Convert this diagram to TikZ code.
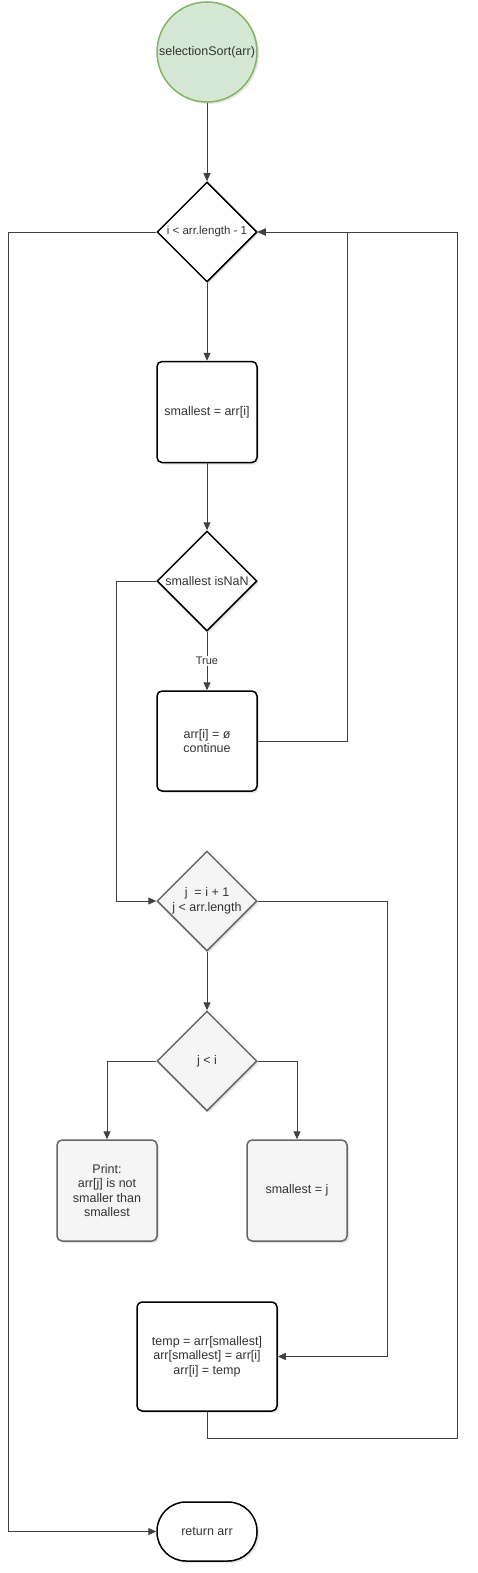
\documentclass[tikz,border=0pt]{standalone}
\usepackage{fontspec}
\setmainfont{Liberation Sans}
\usetikzlibrary{shapes.geometric,arrows.meta,shadows}
\definecolor{startfill}{HTML}{D5E8D4}
\definecolor{startline}{HTML}{82B366}
\definecolor{greyfill}{HTML}{F5F5F5}
\definecolor{greyline}{HTML}{666666}
\definecolor{txt}{HTML}{333333}
\begin{document}
\begin{tikzpicture}[x=1pt,y=-1pt,font=\fontsize{12.5}{14.5}\selectfont,text=txt,
  shade/.style={drop shadow={opacity=0.2,shadow xshift=2pt,shadow yshift=-2pt}},
  startnode/.style={circle,draw=startline,fill=startfill,line width=1.5pt,minimum size=100pt,inner sep=0pt,shade},
  decide/.style={diamond,draw=black,fill=white,line width=1.5pt,minimum width=100pt,minimum height=100pt,inner sep=0pt,shade},
  greydecide/.style={decide,draw=greyline,fill=greyfill},
  stepbox/.style={rectangle,rounded corners=5pt,draw=black,fill=white,line width=1.5pt,minimum width=100pt,minimum height=101pt,align=center,inner sep=2pt,shade},
  greybox/.style={stepbox,draw=greyline,fill=greyfill},
  endnode/.style={rectangle,rounded corners=29pt,draw=black,fill=white,line width=1.5pt,minimum width=100pt,minimum height=59pt,shade},
  arr/.style={draw=black!75,line width=1pt,-{Triangle[length=8pt,width=7pt]}}] %[x=1pt,y=-1pt]
\useasboundingbox (0,0) rectangle (477,1573);

\node[startnode] (start) at (207,52) {selectionSort(arr)};
\node[decide,font=\fontsize{11.5}{13.5}\selectfont] (outer) at (207,232) {i < arr.length - 1};
\node[stepbox] (init) at (207,412) {smallest = arr[i]};
\node[decide] (nan) at (207,581) {smallest isNaN};
\node[stepbox,minimum height=100pt] (skip) at (207,741) {arr[i] = ø\\continue};
\node[greydecide,align=center] (inner) at (207,901) {j \ = i + 1\\j < arr.length};
\node[greydecide] (cmp) at (207,1061) {j < i};
\node[greybox] (keep) at (107,1190.5) {Print:\\arr[j] is not\\smaller than\\smallest};
\node[greybox] (upd) at (297,1190.5) {smallest = j};
\node[stepbox,minimum width=140pt,minimum height=109pt] (swap) at (207,1356.5) {temp = arr[smallest]\\arr[smallest] = arr[i]\\arr[i] = temp};
\node[endnode] (done) at (207,1531.5) {return arr};

\coordinate (exitL) at (8,0);
\coordinate (loopR) at (457,1438);

% main line
\draw[arr] (start) -- (outer);
\draw[arr] (outer) -- (init);
\draw[arr] (init) -- (nan);
\draw[arr] (nan) -- node[fill=white,inner sep=1pt,font=\fontsize{11}{13}\selectfont] (truelbl) {True} (skip);
\draw[arr] (inner) -- (cmp);

% loops back to the top
\draw[arr] (skip.east) -- ++(90,0) |- (outer.east);
\draw[arr] (swap.south) |- (loopR) |- (outer.east);
\draw[arr] (outer.west) -| (exitL |- done.west) -- (done.west);

% side branches
\draw[arr] (nan.west) -- ++(-40,0) |- (inner.west);
\draw[arr] (inner.east) -- ++(130,0) |- (swap.east);
\draw[arr] (cmp.west) -| (keep.north);
\draw[arr] (cmp.east) -| (upd.north);
\end{tikzpicture}
\end{document}
